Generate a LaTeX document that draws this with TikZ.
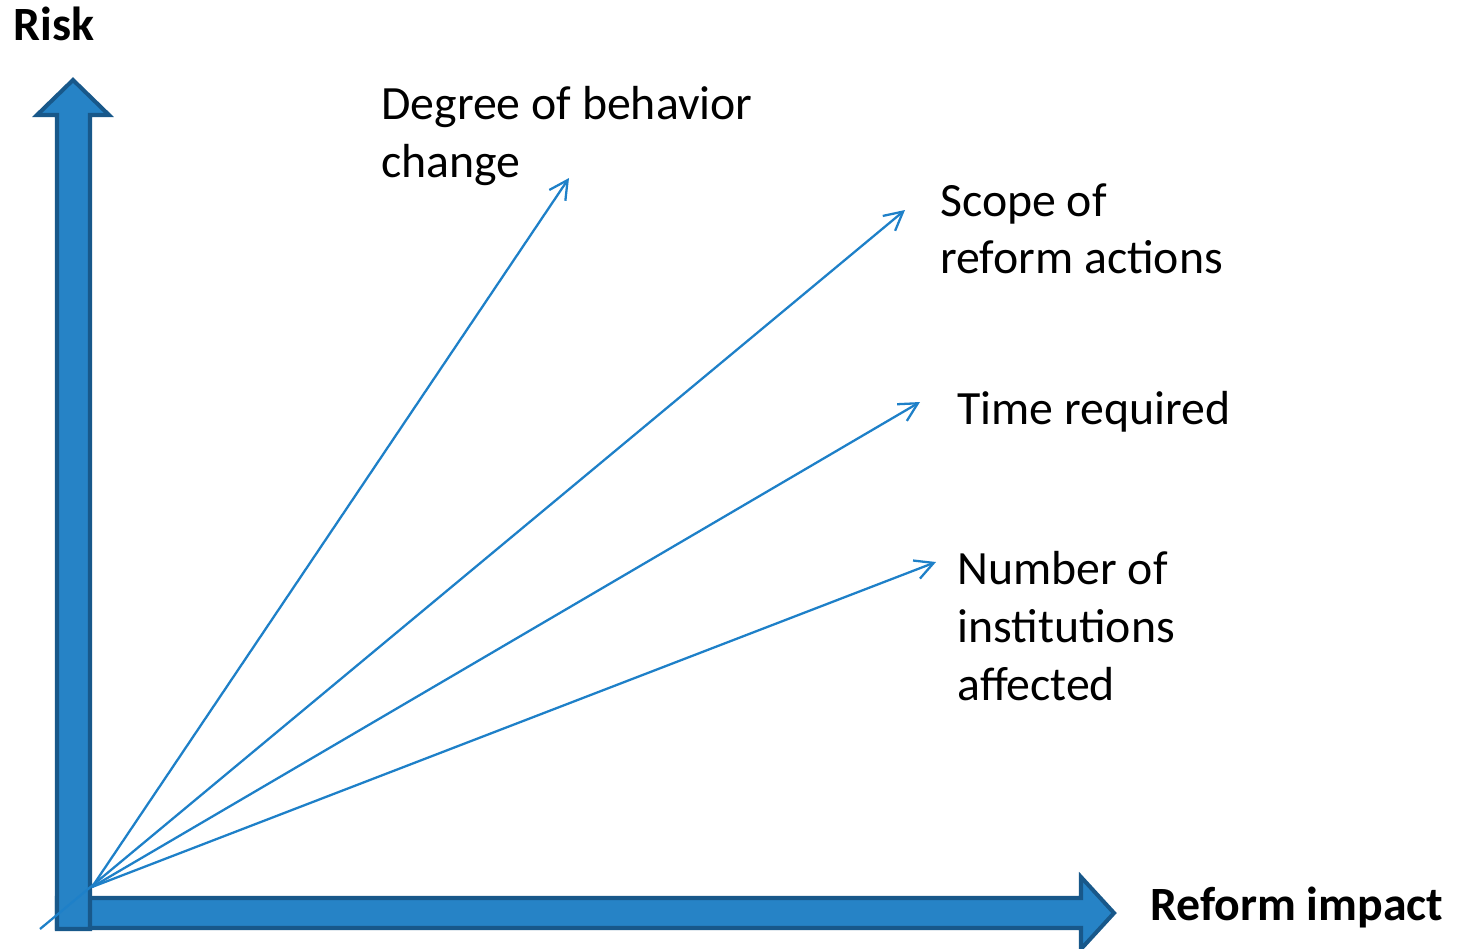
\documentclass[tikz,border=0pt]{standalone}
\usepackage{fontspec}
\setmainfont{Carlito}
\usepackage{tikz}
\usepackage{xcolor}
\usetikzlibrary{arrows.meta}

\definecolor{axisblue}{RGB}{38,131,198}
\definecolor{axisedge}{RGB}{24,88,138}
\definecolor{rayblue}{RGB}{30,128,200}

\begin{document}
\begin{tikzpicture}[x=0.02cm,y=-0.02cm,
  ray/.style={draw=rayblue,line width=1.3pt,-{Straight Barb[length=10.5pt,width=11pt]}},
  lbl/.style={anchor=north west,inner sep=0pt,align=left,font=\fontsize{27.2}{32.9}\selectfont},
  axislbl/.style={lbl,font=\fontsize{27.2}{32.9}\selectfont\bfseries}]
\useasboundingbox (0,0) rectangle (1460,948);

% horizontal axis (drawn first, the vertical one overlaps it)
\filldraw[fill=axisblue,draw=axisedge,line width=2.3pt,line join=miter]
  (57,898) -- (1081,898) -- (1081,877) -- (1114,913) -- (1081,949) -- (1081,928) -- (57,928) -- cycle;
% vertical axis
\filldraw[fill=axisblue,draw=axisedge,line width=2.3pt,line join=miter]
  (57,929) -- (57,115) -- (37,115) -- (73,80) -- (109,115) -- (90,115) -- (90,929) -- cycle;

% labels
\node[axislbl] (risk) at (13,7) {Risk};
\node[axislbl] (impact) at (1150,887) {Reform impact};
\node[lbl] (degree) at (381,86) {Degree of behavior\\change};
\node[lbl] (scope) at (940,183) {Scope of\\reform actions};
\node[lbl] (time) at (957,391) {Time required};
\node[lbl] (number) at (957,551) {Number of\\institutions\\affected};

% rays
\coordinate (origin) at (92,887);
\coordinate (scopeStart) at (40,929);
\coordinate (degreeEnd) at (569,178);
\coordinate (scopeEnd) at (905,210);
\coordinate (timeEnd) at (920,402);
\coordinate (numberEnd) at (936,562);

\draw[ray] (origin) -- (degreeEnd);
\draw[ray] (scopeStart) -- (scopeEnd);
\draw[ray] (origin) -- (timeEnd);
\draw[ray] (origin) -- (numberEnd);

\end{tikzpicture}
\end{document}
